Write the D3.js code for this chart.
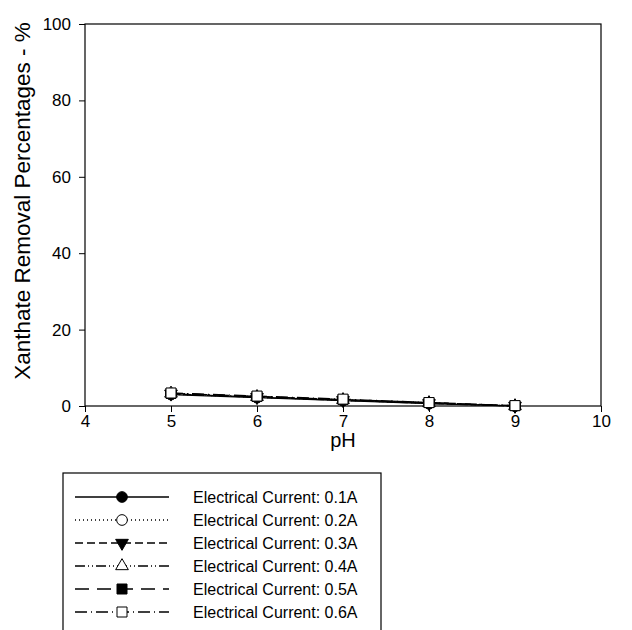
<!DOCTYPE html>
<html>
<head>
  <script src="https://d3js.org/d3.v7.min.js"></script>
  <style>
    body { margin: 0; background: #fff; }
    svg { font-family: Arial, "Liberation Sans", sans-serif; }
    .axis path, .axis line { stroke: #000; }
  </style>
</head>
<body>
<div id="chart"></div>
<script>
// data
var phValues = [5, 6, 7, 8, 9];
var seriesNames = ["Electrical Current: 0.1A", "Electrical Current: 0.2A", "Electrical Current: 0.3A",
                   "Electrical Current: 0.4A", "Electrical Current: 0.5A", "Electrical Current: 0.6A"];
var current01 = [3.0, 2.2, 1.4, 0.6, 0.0];
var current02 = [3.1, 2.3, 1.5, 0.7, 0.0];
var current03 = [3.2, 2.3, 1.5, 0.7, 0.0];
var current04 = [3.3, 2.4, 1.6, 0.8, 0.0];
var current05 = [3.3, 2.5, 1.7, 0.9, 0.1];
var current06 = [3.4, 2.6, 1.8, 0.9, 0.1];
var xTicks = [4, 5, 6, 7, 8, 9, 10];
var yTicks = [0, 20, 40, 60, 80, 100];

var allSeries = [current01, current02, current03, current04, current05, current06];
var dashes = ["none", "1,3", "8,4", "10,3,1,3,1,3", "14,8", "12,4,1,4"];
var symbols = [
  {type: d3.symbolCircle, fill: "#000"},
  {type: d3.symbolCircle, fill: "#fff"},
  {type: d3.symbolTriangle, fill: "#000", rot: 180},
  {type: d3.symbolTriangle, fill: "#fff"},
  {type: d3.symbolSquare, fill: "#000"},
  {type: d3.symbolSquare, fill: "#fff"}
];

var W = 632, H = 630;
var plotLeft = 85, plotRight = 601, plotTop = 24, plotBottom = 406;

var x = d3.scaleLinear().domain([4, 10]).range([plotLeft, plotRight]);
var y = d3.scaleLinear().domain([0, 100]).range([plotBottom, plotTop]);

var svg = d3.select("#chart").append("svg")
  .attr("width", W).attr("height", H);

// frame
svg.append("rect")
  .attr("x", plotLeft).attr("y", plotTop)
  .attr("width", plotRight - plotLeft).attr("height", plotBottom - plotTop)
  .attr("fill", "none").attr("stroke", "#000").attr("stroke-width", 1.2);

var xAxis = d3.axisBottom(x).tickValues(xTicks).tickFormat(d3.format("d")).tickSize(6).tickPadding(3);
var yAxis = d3.axisLeft(y).tickValues(yTicks).tickFormat(d3.format("d")).tickSize(6).tickPadding(8);

svg.append("g").attr("class", "axis")
  .attr("transform", `translate(0, ${plotBottom})`)
  .call(xAxis)
  .call(g => g.select(".domain").remove())
  .call(g => g.selectAll("text").style("font-size", "17px").attr("fill", "#000"));

svg.append("g").attr("class", "axis")
  .attr("transform", `translate(${plotLeft}, 0)`)
  .call(yAxis)
  .call(g => g.select(".domain").remove())
  .call(g => g.selectAll("text").style("font-size", "17px").attr("fill", "#000"));

svg.append("text")
  .attr("x", (plotLeft + plotRight) / 2).attr("y", 447)
  .attr("text-anchor", "middle").style("font-size", "20px")
  .text("pH");

svg.append("text")
  .attr("transform", `translate(30, 201) rotate(-90)`)
  .attr("text-anchor", "middle").style("font-size", "22.5px")
  .text("Xanthate Removal Percentages - %");

var line = d3.line()
  .x((d, i) => x(phValues[i]))
  .y(d => y(d));

var symbolPath = function(s) {
  return d3.symbol().type(s.type).size(s.type === d3.symbolSquare ? 100 : (s.type === d3.symbolTriangle ? 70 : 90))();
};

allSeries.forEach(function(vals, k) {
  svg.append("path")
    .attr("d", line(vals))
    .attr("fill", "none").attr("stroke", "#000").attr("stroke-width", 1.3)
    .attr("stroke-dasharray", dashes[k]);
});

allSeries.forEach(function(vals, k) {
  svg.append("g").selectAll("path")
    .data(vals).enter()
    .append("path")
    .attr("d", symbolPath(symbols[k]))
    .attr("transform", (d, i) => `translate(${x(phValues[i])}, ${y(d)}) rotate(${symbols[k].rot || 0})`)
    .attr("fill", symbols[k].fill).attr("stroke", "#000").attr("stroke-width", 1);
});

// legend
var lg = svg.append("g");
lg.append("rect")
  .attr("x", 63).attr("y", 473).attr("width", 318).attr("height", 170)
  .attr("fill", "#fff").attr("stroke", "#000").attr("stroke-width", 1.2);

seriesNames.forEach(function(name, k) {
  var ry = 497 + k * 23;
  lg.append("line")
    .attr("x1", 75).attr("x2", 169).attr("y1", ry).attr("y2", ry)
    .attr("stroke", "#000").attr("stroke-width", 1.3)
    .attr("stroke-dasharray", dashes[k]);
  lg.append("path")
    .attr("d", symbolPath(symbols[k]))
    .attr("transform", `translate(122, ${ry}) rotate(${symbols[k].rot || 0})`)
    .attr("fill", symbols[k].fill).attr("stroke", "#000").attr("stroke-width", 1);
  lg.append("text")
    .attr("x", 193).attr("y", ry + 6)
    .style("font-size", "16px")
    .text(name);
});
</script>
</body>
</html>
